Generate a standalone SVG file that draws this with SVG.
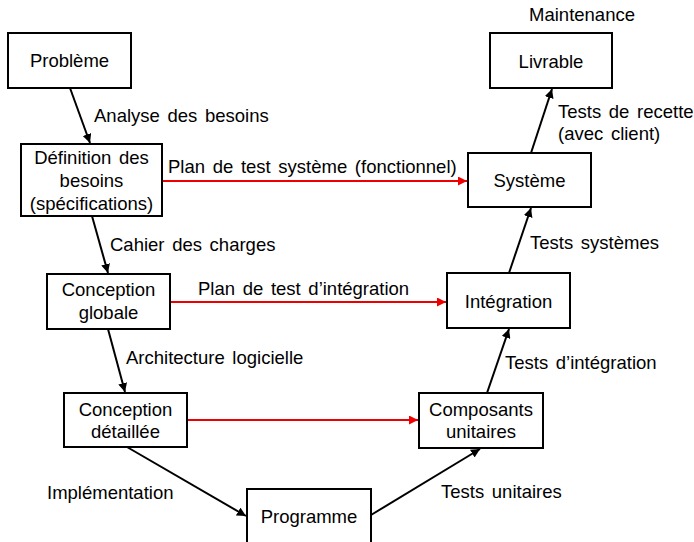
<svg xmlns="http://www.w3.org/2000/svg" width="694" height="542" viewBox="0 0 694 542">
<style>
.box{fill:#fff;stroke:#000;stroke-width:2}
text{font-family:"Liberation Sans",Arial,sans-serif;font-size:18.5px;fill:#000;word-spacing:2.5px}
.c{text-anchor:middle}
.blk{stroke:#000;stroke-width:2;fill:none;marker-end:url(#ab)}
.red{stroke:#e00;stroke-width:2;fill:none;marker-end:url(#ar)}
</style>
<defs>
<marker id="ab" viewBox="0 0 10 10" refX="10" refY="5" markerWidth="4.5" markerHeight="4.5" orient="auto" markerUnits="strokeWidth"><path d="M0,0 L10,5 L0,10 z" fill="#000"/></marker>
<marker id="ar" viewBox="0 0 10 10" refX="10" refY="5" markerWidth="4.5" markerHeight="4.5" orient="auto" markerUnits="strokeWidth"><path d="M0,0 L10,5 L0,10 z" fill="#e00"/></marker>
</defs>
<rect width="694" height="542" fill="#fff"/>
<g id="connectors">
<line class="blk" x1="70" y1="88" x2="90" y2="143"/>
<line class="blk" x1="92" y1="216" x2="108" y2="273"/>
<line class="blk" x1="108" y1="329" x2="125" y2="392"/>
<line class="blk" x1="127" y1="447" x2="246" y2="516"/>
<line class="blk" x1="371" y1="515" x2="480" y2="449"/>
<line class="blk" x1="487" y1="393" x2="509" y2="329"/>
<line class="blk" x1="509" y1="273" x2="531" y2="208"/>
<line class="blk" x1="531" y1="153" x2="552" y2="89"/>
<line class="red" x1="162" y1="181" x2="467" y2="181"/>
<line class="red" x1="170" y1="302" x2="446" y2="302"/>
<line class="red" x1="187" y1="420" x2="418" y2="420"/>
<text x="94" y="122">Analyse des besoins</text>
<text x="110" y="251">Cahier des charges</text>
<text x="126" y="364">Architecture logicielle</text>
<text x="47" y="499">Implémentation</text>
<text x="441" y="498">Tests unitaires</text>
<text x="505" y="369">Tests d’intégration</text>
<text x="530" y="249">Tests systèmes</text>
<text x="558" y="118">Tests de recette</text>
<text x="558" y="140">(avec client)</text>
<text x="168" y="173">Plan de test système (fonctionnel)</text>
<text x="198" y="295">Plan de test d’intégration</text>
<text class="c" x="582" y="21">Maintenance</text>
</g>
<g id="probleme"><rect class="box" x="8" y="33" width="123" height="55"/><text class="c" x="69.5" y="67">Problème</text></g>
<g id="definition"><rect class="box" x="21" y="144" width="141" height="72"/><text class="c" x="91.5" y="164">Définition des</text><text class="c" x="91.5" y="187">besoins</text><text class="c" x="91.5" y="210">(spécifications)</text></g>
<g id="conception-globale"><rect class="box" x="47" y="274" width="123" height="55"/><text class="c" x="108.5" y="296">Conception</text><text class="c" x="108.5" y="319">globale</text></g>
<g id="conception-detaillee"><rect class="box" x="64" y="393" width="123" height="54"/><text class="c" x="125.5" y="416">Conception</text><text class="c" x="125.5" y="438">détaillée</text></g>
<g id="programme"><rect class="box" x="247" y="489" width="124" height="60"/><text class="c" x="309" y="523">Programme</text></g>
<g id="composants"><rect class="box" x="419" y="393" width="124" height="55"/><text class="c" x="481" y="416">Composants</text><text class="c" x="481" y="438">unitaires</text></g>
<g id="integration"><rect class="box" x="447" y="273" width="123" height="55"/><text class="c" x="508.5" y="308">Intégration</text></g>
<g id="systeme"><rect class="box" x="468" y="153" width="123" height="54"/><text class="c" x="529.5" y="187">Système</text></g>
<g id="livrable"><rect class="box" x="490" y="33" width="122" height="55"/><text class="c" x="551" y="68">Livrable</text></g>
</svg>
